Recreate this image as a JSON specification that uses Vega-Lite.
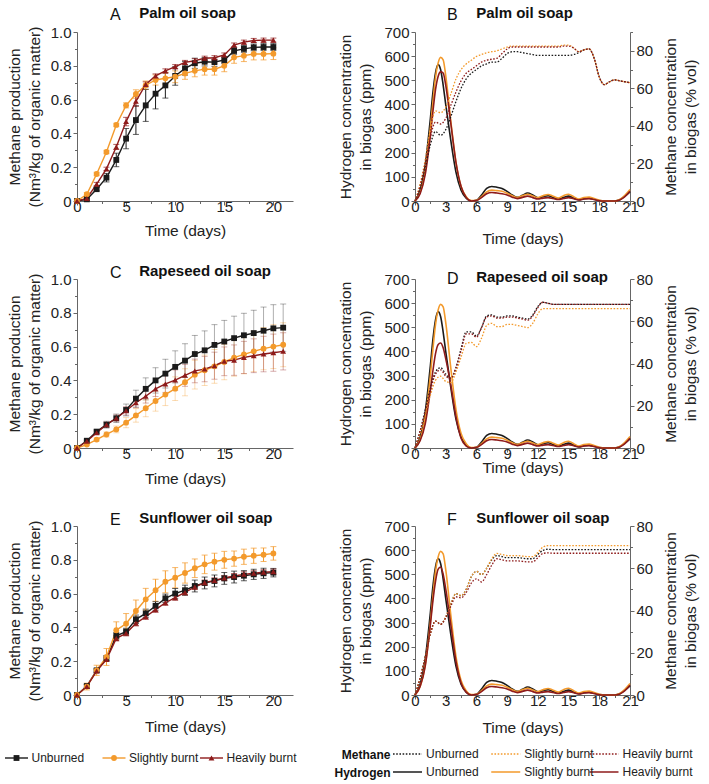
{
  "$schema": "https://vega.github.io/schema/vega-lite/v6.json",
  "background": "white",
  "padding": {"left": 2, "top": 6, "right": 5, "bottom": 2},
  "config": {
    "font": "Liberation Sans",
    "view": {"stroke": null},
    "axis": {
      "grid": false, "labelFont": "Liberation Sans", "titleFont": "Liberation Sans",
      "labelFontSize": 15, "titleFontSize": 15.5, "titleFontWeight": "normal",
      "labelColor": "#222", "titleColor": "#222", "domainColor": "#666", "tickColor": "#666",
      "labelFlush": false, "labelOverlap": false, "labelPadding": 2, "titleLineHeight": 20
    },
    "axisX": {"labelPadding": -6},
    "title": {
      "font": "Liberation Sans", "fontSize": 16, "fontWeight": "normal", "color": "#111",
      "subtitleFont": "Liberation Sans", "subtitleFontSize": 15, "subtitleFontWeight": "bold", "subtitleColor": "#111",
      "anchor": "start", "frame": "group"
    }
  },
  "datasets": {
    "prod": [
      {"panel":"A","cond":"Unburned","day":0,"value":0,"err":0},{"panel":"A","cond":"Unburned","day":1,"value":0.01,"err":0.005},{"panel":"A","cond":"Unburned","day":2,"value":0.07,"err":0.01},{"panel":"A","cond":"Unburned","day":3,"value":0.138,"err":0.025},{"panel":"A","cond":"Unburned","day":4,"value":0.243,"err":0.04},{"panel":"A","cond":"Unburned","day":5,"value":0.369,"err":0.06},{"panel":"A","cond":"Unburned","day":6,"value":0.479,"err":0.085},{"panel":"A","cond":"Unburned","day":7,"value":0.566,"err":0.095},{"panel":"A","cond":"Unburned","day":8,"value":0.635,"err":0.09},{"panel":"A","cond":"Unburned","day":9,"value":0.684,"err":0.075},{"panel":"A","cond":"Unburned","day":10,"value":0.74,"err":0.055},{"panel":"A","cond":"Unburned","day":11,"value":0.785,"err":0.04},{"panel":"A","cond":"Unburned","day":12,"value":0.815,"err":0.03},{"panel":"A","cond":"Unburned","day":13,"value":0.824,"err":0.025},{"panel":"A","cond":"Unburned","day":14,"value":0.822,"err":0.025},{"panel":"A","cond":"Unburned","day":15,"value":0.834,"err":0.02},{"panel":"A","cond":"Unburned","day":16,"value":0.888,"err":0.02},{"panel":"A","cond":"Unburned","day":17,"value":0.9,"err":0.02},{"panel":"A","cond":"Unburned","day":18,"value":0.909,"err":0.02},{"panel":"A","cond":"Unburned","day":19,"value":0.911,"err":0.02},{"panel":"A","cond":"Unburned","day":20,"value":0.911,"err":0.02},
      {"panel":"A","cond":"Slightly burnt","day":0,"value":0,"err":0},{"panel":"A","cond":"Slightly burnt","day":1,"value":0.04,"err":0.01},{"panel":"A","cond":"Slightly burnt","day":2,"value":0.16,"err":0.01},{"panel":"A","cond":"Slightly burnt","day":3,"value":0.29,"err":0.01},{"panel":"A","cond":"Slightly burnt","day":4,"value":0.45,"err":0.01},{"panel":"A","cond":"Slightly burnt","day":5,"value":0.566,"err":0.015},{"panel":"A","cond":"Slightly burnt","day":6,"value":0.633,"err":0.025},{"panel":"A","cond":"Slightly burnt","day":7,"value":0.685,"err":0.025},{"panel":"A","cond":"Slightly burnt","day":8,"value":0.716,"err":0.03},{"panel":"A","cond":"Slightly burnt","day":9,"value":0.726,"err":0.035},{"panel":"A","cond":"Slightly burnt","day":10,"value":0.735,"err":0.035},{"panel":"A","cond":"Slightly burnt","day":11,"value":0.755,"err":0.035},{"panel":"A","cond":"Slightly burnt","day":12,"value":0.77,"err":0.035},{"panel":"A","cond":"Slightly burnt","day":13,"value":0.78,"err":0.035},{"panel":"A","cond":"Slightly burnt","day":14,"value":0.78,"err":0.035},{"panel":"A","cond":"Slightly burnt","day":15,"value":0.8,"err":0.035},{"panel":"A","cond":"Slightly burnt","day":16,"value":0.85,"err":0.035},{"panel":"A","cond":"Slightly burnt","day":17,"value":0.86,"err":0.035},{"panel":"A","cond":"Slightly burnt","day":18,"value":0.87,"err":0.035},{"panel":"A","cond":"Slightly burnt","day":19,"value":0.87,"err":0.035},{"panel":"A","cond":"Slightly burnt","day":20,"value":0.872,"err":0.035},
      {"panel":"A","cond":"Heavily burnt","day":0,"value":0,"err":0},{"panel":"A","cond":"Heavily burnt","day":1,"value":0.015,"err":0.01},{"panel":"A","cond":"Heavily burnt","day":2,"value":0.1,"err":0.01},{"panel":"A","cond":"Heavily burnt","day":3,"value":0.19,"err":0.01},{"panel":"A","cond":"Heavily burnt","day":4,"value":0.32,"err":0.015},{"panel":"A","cond":"Heavily burnt","day":5,"value":0.47,"err":0.025},{"panel":"A","cond":"Heavily burnt","day":6,"value":0.59,"err":0.03},{"panel":"A","cond":"Heavily burnt","day":7,"value":0.69,"err":0.015},{"panel":"A","cond":"Heavily burnt","day":8,"value":0.74,"err":0.012},{"panel":"A","cond":"Heavily burnt","day":9,"value":0.77,"err":0.012},{"panel":"A","cond":"Heavily burnt","day":10,"value":0.795,"err":0.012},{"panel":"A","cond":"Heavily burnt","day":11,"value":0.82,"err":0.012},{"panel":"A","cond":"Heavily burnt","day":12,"value":0.83,"err":0.012},{"panel":"A","cond":"Heavily burnt","day":13,"value":0.845,"err":0.012},{"panel":"A","cond":"Heavily burnt","day":14,"value":0.848,"err":0.012},{"panel":"A","cond":"Heavily burnt","day":15,"value":0.864,"err":0.012},{"panel":"A","cond":"Heavily burnt","day":16,"value":0.923,"err":0.012},{"panel":"A","cond":"Heavily burnt","day":17,"value":0.94,"err":0.012},{"panel":"A","cond":"Heavily burnt","day":18,"value":0.95,"err":0.012},{"panel":"A","cond":"Heavily burnt","day":19,"value":0.952,"err":0.012},{"panel":"A","cond":"Heavily burnt","day":20,"value":0.952,"err":0.012},
      {"panel":"C","cond":"Unburned","day":0,"value":0,"err":0},{"panel":"C","cond":"Unburned","day":1,"value":0.043,"err":0.005},{"panel":"C","cond":"Unburned","day":2,"value":0.097,"err":0.01},{"panel":"C","cond":"Unburned","day":3,"value":0.138,"err":0.02},{"panel":"C","cond":"Unburned","day":4,"value":0.176,"err":0.025},{"panel":"C","cond":"Unburned","day":5,"value":0.225,"err":0.035},{"panel":"C","cond":"Unburned","day":6,"value":0.292,"err":0.05},{"panel":"C","cond":"Unburned","day":7,"value":0.35,"err":0.065},{"panel":"C","cond":"Unburned","day":8,"value":0.4,"err":0.075},{"panel":"C","cond":"Unburned","day":9,"value":0.44,"err":0.085},{"panel":"C","cond":"Unburned","day":10,"value":0.48,"err":0.095},{"panel":"C","cond":"Unburned","day":11,"value":0.517,"err":0.1},{"panel":"C","cond":"Unburned","day":12,"value":0.556,"err":0.11},{"panel":"C","cond":"Unburned","day":13,"value":0.578,"err":0.115},{"panel":"C","cond":"Unburned","day":14,"value":0.61,"err":0.12},{"panel":"C","cond":"Unburned","day":15,"value":0.63,"err":0.125},{"panel":"C","cond":"Unburned","day":16,"value":0.65,"err":0.13},{"panel":"C","cond":"Unburned","day":17,"value":0.667,"err":0.13},{"panel":"C","cond":"Unburned","day":18,"value":0.68,"err":0.135},{"panel":"C","cond":"Unburned","day":19,"value":0.694,"err":0.14},{"panel":"C","cond":"Unburned","day":20,"value":0.708,"err":0.14},{"panel":"C","cond":"Unburned","day":21,"value":0.712,"err":0.14},
      {"panel":"C","cond":"Slightly burnt","day":0,"value":0,"err":0},{"panel":"C","cond":"Slightly burnt","day":1,"value":0.02,"err":0.005},{"panel":"C","cond":"Slightly burnt","day":2,"value":0.05,"err":0.01},{"panel":"C","cond":"Slightly burnt","day":3,"value":0.08,"err":0.015},{"panel":"C","cond":"Slightly burnt","day":4,"value":0.11,"err":0.02},{"panel":"C","cond":"Slightly burnt","day":5,"value":0.15,"err":0.03},{"panel":"C","cond":"Slightly burnt","day":6,"value":0.193,"err":0.04},{"panel":"C","cond":"Slightly burnt","day":7,"value":0.235,"err":0.05},{"panel":"C","cond":"Slightly burnt","day":8,"value":0.278,"err":0.06},{"panel":"C","cond":"Slightly burnt","day":9,"value":0.316,"err":0.065},{"panel":"C","cond":"Slightly burnt","day":10,"value":0.351,"err":0.07},{"panel":"C","cond":"Slightly burnt","day":11,"value":0.389,"err":0.08},{"panel":"C","cond":"Slightly burnt","day":12,"value":0.434,"err":0.085},{"panel":"C","cond":"Slightly burnt","day":13,"value":0.46,"err":0.09},{"panel":"C","cond":"Slightly burnt","day":14,"value":0.483,"err":0.1},{"panel":"C","cond":"Slightly burnt","day":15,"value":0.509,"err":0.105},{"panel":"C","cond":"Slightly burnt","day":16,"value":0.535,"err":0.11},{"panel":"C","cond":"Slightly burnt","day":17,"value":0.554,"err":0.115},{"panel":"C","cond":"Slightly burnt","day":18,"value":0.572,"err":0.12},{"panel":"C","cond":"Slightly burnt","day":19,"value":0.588,"err":0.125},{"panel":"C","cond":"Slightly burnt","day":20,"value":0.6,"err":0.13},{"panel":"C","cond":"Slightly burnt","day":21,"value":0.611,"err":0.13},
      {"panel":"C","cond":"Heavily burnt","day":0,"value":0,"err":0},{"panel":"C","cond":"Heavily burnt","day":1,"value":0.04,"err":0.005},{"panel":"C","cond":"Heavily burnt","day":2,"value":0.09,"err":0.01},{"panel":"C","cond":"Heavily burnt","day":3,"value":0.138,"err":0.015},{"panel":"C","cond":"Heavily burnt","day":4,"value":0.176,"err":0.02},{"panel":"C","cond":"Heavily burnt","day":5,"value":0.22,"err":0.025},{"panel":"C","cond":"Heavily burnt","day":6,"value":0.268,"err":0.03},{"panel":"C","cond":"Heavily burnt","day":7,"value":0.306,"err":0.04},{"panel":"C","cond":"Heavily burnt","day":8,"value":0.35,"err":0.045},{"panel":"C","cond":"Heavily burnt","day":9,"value":0.379,"err":0.05},{"panel":"C","cond":"Heavily burnt","day":10,"value":0.402,"err":0.06},{"panel":"C","cond":"Heavily burnt","day":11,"value":0.43,"err":0.065},{"panel":"C","cond":"Heavily burnt","day":12,"value":0.456,"err":0.07},{"panel":"C","cond":"Heavily burnt","day":13,"value":0.467,"err":0.075},{"panel":"C","cond":"Heavily burnt","day":14,"value":0.487,"err":0.08},{"panel":"C","cond":"Heavily burnt","day":15,"value":0.513,"err":0.085},{"panel":"C","cond":"Heavily burnt","day":16,"value":0.52,"err":0.09},{"panel":"C","cond":"Heavily burnt","day":17,"value":0.536,"err":0.095},{"panel":"C","cond":"Heavily burnt","day":18,"value":0.546,"err":0.1},{"panel":"C","cond":"Heavily burnt","day":19,"value":0.556,"err":0.105},{"panel":"C","cond":"Heavily burnt","day":20,"value":0.564,"err":0.11},{"panel":"C","cond":"Heavily burnt","day":21,"value":0.572,"err":0.11},
      {"panel":"E","cond":"Unburned","day":0,"value":0,"err":0},{"panel":"E","cond":"Unburned","day":1,"value":0.053,"err":0.01},{"panel":"E","cond":"Unburned","day":2,"value":0.146,"err":0.01},{"panel":"E","cond":"Unburned","day":3,"value":0.217,"err":0.015},{"panel":"E","cond":"Unburned","day":4,"value":0.35,"err":0.02},{"panel":"E","cond":"Unburned","day":5,"value":0.375,"err":0.02},{"panel":"E","cond":"Unburned","day":6,"value":0.448,"err":0.025},{"panel":"E","cond":"Unburned","day":7,"value":0.483,"err":0.025},{"panel":"E","cond":"Unburned","day":8,"value":0.527,"err":0.025},{"panel":"E","cond":"Unburned","day":9,"value":0.572,"err":0.025},{"panel":"E","cond":"Unburned","day":10,"value":0.6,"err":0.03},{"panel":"E","cond":"Unburned","day":11,"value":0.62,"err":0.03},{"panel":"E","cond":"Unburned","day":12,"value":0.645,"err":0.035},{"panel":"E","cond":"Unburned","day":13,"value":0.663,"err":0.035},{"panel":"E","cond":"Unburned","day":14,"value":0.675,"err":0.035},{"panel":"E","cond":"Unburned","day":15,"value":0.69,"err":0.035},{"panel":"E","cond":"Unburned","day":16,"value":0.698,"err":0.035},{"panel":"E","cond":"Unburned","day":17,"value":0.706,"err":0.03},{"panel":"E","cond":"Unburned","day":18,"value":0.714,"err":0.03},{"panel":"E","cond":"Unburned","day":19,"value":0.72,"err":0.03},{"panel":"E","cond":"Unburned","day":20,"value":0.724,"err":0.025},
      {"panel":"E","cond":"Slightly burnt","day":0,"value":0,"err":0},{"panel":"E","cond":"Slightly burnt","day":1,"value":0.05,"err":0.02},{"panel":"E","cond":"Slightly burnt","day":2,"value":0.146,"err":0.03},{"panel":"E","cond":"Slightly burnt","day":3,"value":0.225,"err":0.05},{"panel":"E","cond":"Slightly burnt","day":4,"value":0.383,"err":0.05},{"panel":"E","cond":"Slightly burnt","day":5,"value":0.422,"err":0.06},{"panel":"E","cond":"Slightly burnt","day":6,"value":0.497,"err":0.065},{"panel":"E","cond":"Slightly burnt","day":7,"value":0.566,"err":0.065},{"panel":"E","cond":"Slightly burnt","day":8,"value":0.62,"err":0.065},{"panel":"E","cond":"Slightly burnt","day":9,"value":0.67,"err":0.065},{"panel":"E","cond":"Slightly burnt","day":10,"value":0.694,"err":0.06},{"panel":"E","cond":"Slightly burnt","day":11,"value":0.722,"err":0.06},{"panel":"E","cond":"Slightly burnt","day":12,"value":0.75,"err":0.055},{"panel":"E","cond":"Slightly burnt","day":13,"value":0.773,"err":0.055},{"panel":"E","cond":"Slightly burnt","day":14,"value":0.789,"err":0.05},{"panel":"E","cond":"Slightly burnt","day":15,"value":0.8,"err":0.05},{"panel":"E","cond":"Slightly burnt","day":16,"value":0.807,"err":0.045},{"panel":"E","cond":"Slightly burnt","day":17,"value":0.818,"err":0.045},{"panel":"E","cond":"Slightly burnt","day":18,"value":0.824,"err":0.045},{"panel":"E","cond":"Slightly burnt","day":19,"value":0.83,"err":0.04},{"panel":"E","cond":"Slightly burnt","day":20,"value":0.838,"err":0.04},
      {"panel":"E","cond":"Heavily burnt","day":0,"value":0,"err":0},{"panel":"E","cond":"Heavily burnt","day":1,"value":0.05,"err":0.01},{"panel":"E","cond":"Heavily burnt","day":2,"value":0.142,"err":0.01},{"panel":"E","cond":"Heavily burnt","day":3,"value":0.21,"err":0.01},{"panel":"E","cond":"Heavily burnt","day":4,"value":0.335,"err":0.015},{"panel":"E","cond":"Heavily burnt","day":5,"value":0.365,"err":0.015},{"panel":"E","cond":"Heavily burnt","day":6,"value":0.424,"err":0.015},{"panel":"E","cond":"Heavily burnt","day":7,"value":0.463,"err":0.015},{"panel":"E","cond":"Heavily burnt","day":8,"value":0.505,"err":0.015},{"panel":"E","cond":"Heavily burnt","day":9,"value":0.546,"err":0.015},{"panel":"E","cond":"Heavily burnt","day":10,"value":0.576,"err":0.015},{"panel":"E","cond":"Heavily burnt","day":11,"value":0.607,"err":0.015},{"panel":"E","cond":"Heavily burnt","day":12,"value":0.639,"err":0.015},{"panel":"E","cond":"Heavily burnt","day":13,"value":0.665,"err":0.015},{"panel":"E","cond":"Heavily burnt","day":14,"value":0.678,"err":0.015},{"panel":"E","cond":"Heavily burnt","day":15,"value":0.692,"err":0.015},{"panel":"E","cond":"Heavily burnt","day":16,"value":0.704,"err":0.015},{"panel":"E","cond":"Heavily burnt","day":17,"value":0.714,"err":0.015},{"panel":"E","cond":"Heavily burnt","day":18,"value":0.72,"err":0.015},{"panel":"E","cond":"Heavily burnt","day":19,"value":0.726,"err":0.015},{"panel":"E","cond":"Heavily burnt","day":20,"value":0.73,"err":0.015}
    ],
    "h2B": [
      {"day":0,"Unburned":0,"Slightly burnt":0,"Heavily burnt":0},{"day":0.5,"Unburned":45,"Slightly burnt":35,"Heavily burnt":30},{"day":1,"Unburned":150,"Slightly burnt":125,"Heavily burnt":110},{"day":1.5,"Unburned":340,"Slightly burnt":300,"Heavily burnt":270},{"day":1.75,"Unburned":450,"Slightly burnt":410,"Heavily burnt":370},{"day":2,"Unburned":530,"Slightly burnt":510,"Heavily burnt":460},{"day":2.25,"Unburned":565,"Slightly burnt":570,"Heavily burnt":515},{"day":2.5,"Unburned":545,"Slightly burnt":595,"Heavily burnt":535},{"day":2.75,"Unburned":480,"Slightly burnt":585,"Heavily burnt":530},{"day":3,"Unburned":400,"Slightly burnt":520,"Heavily burnt":480},{"day":3.5,"Unburned":250,"Slightly burnt":330,"Heavily burnt":320},{"day":4,"Unburned":120,"Slightly burnt":160,"Heavily burnt":160},{"day":4.5,"Unburned":45,"Slightly burnt":60,"Heavily burnt":60},{"day":5,"Unburned":12,"Slightly burnt":18,"Heavily burnt":15},{"day":5.5,"Unburned":0,"Slightly burnt":2,"Heavily burnt":0},{"day":6,"Unburned":3,"Slightly burnt":3,"Heavily burnt":2},{"day":6.5,"Unburned":25,"Slightly burnt":18,"Heavily burnt":14},{"day":7,"Unburned":52,"Slightly burnt":38,"Heavily burnt":30},{"day":7.5,"Unburned":60,"Slightly burnt":45,"Heavily burnt":35},{"day":8,"Unburned":57,"Slightly burnt":43,"Heavily burnt":33},{"day":8.5,"Unburned":52,"Slightly burnt":40,"Heavily burnt":30},{"day":9,"Unburned":40,"Slightly burnt":32,"Heavily burnt":25},{"day":9.5,"Unburned":25,"Slightly burnt":22,"Heavily burnt":16},{"day":10,"Unburned":15,"Slightly burnt":14,"Heavily burnt":10},{"day":10.5,"Unburned":24,"Slightly burnt":22,"Heavily burnt":15},{"day":11,"Unburned":33,"Slightly burnt":28,"Heavily burnt":20},{"day":11.5,"Unburned":25,"Slightly burnt":21,"Heavily burnt":14},{"day":12,"Unburned":13,"Slightly burnt":14,"Heavily burnt":8},{"day":12.5,"Unburned":18,"Slightly burnt":22,"Heavily burnt":12},{"day":13,"Unburned":22,"Slightly burnt":27,"Heavily burnt":14},{"day":13.5,"Unburned":15,"Slightly burnt":20,"Heavily burnt":10},{"day":14,"Unburned":9,"Slightly burnt":12,"Heavily burnt":6},{"day":14.5,"Unburned":15,"Slightly burnt":22,"Heavily burnt":10},{"day":15,"Unburned":20,"Slightly burnt":28,"Heavily burnt":14},{"day":15.5,"Unburned":12,"Slightly burnt":18,"Heavily burnt":9},{"day":16,"Unburned":5,"Slightly burnt":8,"Heavily burnt":4},{"day":16.5,"Unburned":10,"Slightly burnt":14,"Heavily burnt":8},{"day":17,"Unburned":12,"Slightly burnt":16,"Heavily burnt":10},{"day":17.5,"Unburned":7,"Slightly burnt":10,"Heavily burnt":6},{"day":18,"Unburned":2,"Slightly burnt":3,"Heavily burnt":1},{"day":18.5,"Unburned":0,"Slightly burnt":0,"Heavily burnt":0},{"day":19,"Unburned":0,"Slightly burnt":0,"Heavily burnt":0},{"day":19.5,"Unburned":0,"Slightly burnt":0,"Heavily burnt":0},{"day":20,"Unburned":5,"Slightly burnt":6,"Heavily burnt":4},{"day":20.5,"Unburned":20,"Slightly burnt":24,"Heavily burnt":18},{"day":21,"Unburned":38,"Slightly burnt":48,"Heavily burnt":40}
    ],
    "h2D": [
      {"day":0,"Unburned":0,"Slightly burnt":0,"Heavily burnt":0},{"day":0.5,"Unburned":45,"Slightly burnt":35,"Heavily burnt":30},{"day":1,"Unburned":150,"Slightly burnt":125,"Heavily burnt":100},{"day":1.5,"Unburned":340,"Slightly burnt":300,"Heavily burnt":240},{"day":1.75,"Unburned":450,"Slightly burnt":410,"Heavily burnt":320},{"day":2,"Unburned":530,"Slightly burnt":510,"Heavily burnt":390},{"day":2.25,"Unburned":565,"Slightly burnt":570,"Heavily burnt":428},{"day":2.5,"Unburned":545,"Slightly burnt":595,"Heavily burnt":435},{"day":2.75,"Unburned":480,"Slightly burnt":585,"Heavily burnt":415},{"day":3,"Unburned":400,"Slightly burnt":520,"Heavily burnt":370},{"day":3.5,"Unburned":250,"Slightly burnt":330,"Heavily burnt":260},{"day":4,"Unburned":120,"Slightly burnt":160,"Heavily burnt":130},{"day":4.5,"Unburned":45,"Slightly burnt":60,"Heavily burnt":40},{"day":5,"Unburned":12,"Slightly burnt":18,"Heavily burnt":8},{"day":5.5,"Unburned":0,"Slightly burnt":2,"Heavily burnt":0},{"day":6,"Unburned":3,"Slightly burnt":3,"Heavily burnt":2},{"day":6.5,"Unburned":25,"Slightly burnt":18,"Heavily burnt":14},{"day":7,"Unburned":52,"Slightly burnt":38,"Heavily burnt":30},{"day":7.5,"Unburned":60,"Slightly burnt":45,"Heavily burnt":35},{"day":8,"Unburned":57,"Slightly burnt":43,"Heavily burnt":33},{"day":8.5,"Unburned":52,"Slightly burnt":40,"Heavily burnt":30},{"day":9,"Unburned":40,"Slightly burnt":32,"Heavily burnt":25},{"day":9.5,"Unburned":25,"Slightly burnt":22,"Heavily burnt":16},{"day":10,"Unburned":15,"Slightly burnt":14,"Heavily burnt":10},{"day":10.5,"Unburned":24,"Slightly burnt":22,"Heavily burnt":15},{"day":11,"Unburned":33,"Slightly burnt":28,"Heavily burnt":20},{"day":11.5,"Unburned":25,"Slightly burnt":21,"Heavily burnt":14},{"day":12,"Unburned":13,"Slightly burnt":14,"Heavily burnt":8},{"day":12.5,"Unburned":18,"Slightly burnt":22,"Heavily burnt":12},{"day":13,"Unburned":22,"Slightly burnt":27,"Heavily burnt":14},{"day":13.5,"Unburned":15,"Slightly burnt":20,"Heavily burnt":10},{"day":14,"Unburned":9,"Slightly burnt":12,"Heavily burnt":6},{"day":14.5,"Unburned":15,"Slightly burnt":22,"Heavily burnt":10},{"day":15,"Unburned":20,"Slightly burnt":28,"Heavily burnt":14},{"day":15.5,"Unburned":12,"Slightly burnt":18,"Heavily burnt":9},{"day":16,"Unburned":5,"Slightly burnt":8,"Heavily burnt":4},{"day":16.5,"Unburned":10,"Slightly burnt":14,"Heavily burnt":8},{"day":17,"Unburned":12,"Slightly burnt":16,"Heavily burnt":10},{"day":17.5,"Unburned":7,"Slightly burnt":10,"Heavily burnt":6},{"day":18,"Unburned":2,"Slightly burnt":3,"Heavily burnt":1},{"day":18.5,"Unburned":0,"Slightly burnt":0,"Heavily burnt":0},{"day":19,"Unburned":0,"Slightly burnt":0,"Heavily burnt":0},{"day":19.5,"Unburned":0,"Slightly burnt":0,"Heavily burnt":0},{"day":20,"Unburned":5,"Slightly burnt":6,"Heavily burnt":4},{"day":20.5,"Unburned":20,"Slightly burnt":24,"Heavily burnt":18},{"day":21,"Unburned":38,"Slightly burnt":48,"Heavily burnt":40}
    ],
    "h2F": [
      {"day":0,"Unburned":0,"Slightly burnt":0,"Heavily burnt":0},{"day":0.5,"Unburned":45,"Slightly burnt":35,"Heavily burnt":35},{"day":1,"Unburned":150,"Slightly burnt":125,"Heavily burnt":120},{"day":1.5,"Unburned":340,"Slightly burnt":300,"Heavily burnt":290},{"day":1.75,"Unburned":450,"Slightly burnt":410,"Heavily burnt":390},{"day":2,"Unburned":530,"Slightly burnt":510,"Heavily burnt":470},{"day":2.25,"Unburned":565,"Slightly burnt":570,"Heavily burnt":520},{"day":2.5,"Unburned":545,"Slightly burnt":595,"Heavily burnt":530},{"day":2.75,"Unburned":480,"Slightly burnt":585,"Heavily burnt":500},{"day":3,"Unburned":400,"Slightly burnt":520,"Heavily burnt":440},{"day":3.5,"Unburned":250,"Slightly burnt":330,"Heavily burnt":290},{"day":4,"Unburned":120,"Slightly burnt":160,"Heavily burnt":140},{"day":4.5,"Unburned":45,"Slightly burnt":60,"Heavily burnt":50},{"day":5,"Unburned":12,"Slightly burnt":18,"Heavily burnt":12},{"day":5.5,"Unburned":0,"Slightly burnt":2,"Heavily burnt":0},{"day":6,"Unburned":3,"Slightly burnt":3,"Heavily burnt":2},{"day":6.5,"Unburned":25,"Slightly burnt":18,"Heavily burnt":14},{"day":7,"Unburned":52,"Slightly burnt":38,"Heavily burnt":30},{"day":7.5,"Unburned":60,"Slightly burnt":45,"Heavily burnt":35},{"day":8,"Unburned":57,"Slightly burnt":43,"Heavily burnt":33},{"day":8.5,"Unburned":52,"Slightly burnt":40,"Heavily burnt":30},{"day":9,"Unburned":40,"Slightly burnt":32,"Heavily burnt":25},{"day":9.5,"Unburned":25,"Slightly burnt":22,"Heavily burnt":16},{"day":10,"Unburned":15,"Slightly burnt":14,"Heavily burnt":10},{"day":10.5,"Unburned":24,"Slightly burnt":22,"Heavily burnt":15},{"day":11,"Unburned":33,"Slightly burnt":28,"Heavily burnt":20},{"day":11.5,"Unburned":25,"Slightly burnt":21,"Heavily burnt":14},{"day":12,"Unburned":13,"Slightly burnt":14,"Heavily burnt":8},{"day":12.5,"Unburned":18,"Slightly burnt":22,"Heavily burnt":12},{"day":13,"Unburned":22,"Slightly burnt":27,"Heavily burnt":14},{"day":13.5,"Unburned":15,"Slightly burnt":20,"Heavily burnt":10},{"day":14,"Unburned":9,"Slightly burnt":12,"Heavily burnt":6},{"day":14.5,"Unburned":15,"Slightly burnt":22,"Heavily burnt":10},{"day":15,"Unburned":20,"Slightly burnt":28,"Heavily burnt":14},{"day":15.5,"Unburned":12,"Slightly burnt":18,"Heavily burnt":9},{"day":16,"Unburned":5,"Slightly burnt":8,"Heavily burnt":4},{"day":16.5,"Unburned":10,"Slightly burnt":14,"Heavily burnt":8},{"day":17,"Unburned":12,"Slightly burnt":16,"Heavily burnt":10},{"day":17.5,"Unburned":7,"Slightly burnt":10,"Heavily burnt":6},{"day":18,"Unburned":2,"Slightly burnt":3,"Heavily burnt":1},{"day":18.5,"Unburned":0,"Slightly burnt":0,"Heavily burnt":0},{"day":19,"Unburned":0,"Slightly burnt":0,"Heavily burnt":0},{"day":19.5,"Unburned":0,"Slightly burnt":0,"Heavily burnt":0},{"day":20,"Unburned":5,"Slightly burnt":6,"Heavily burnt":4},{"day":20.5,"Unburned":20,"Slightly burnt":24,"Heavily burnt":18},{"day":21,"Unburned":38,"Slightly burnt":48,"Heavily burnt":40}
    ],
    "ch4B": [
      {"day":0,"Unburned":0,"Slightly burnt":0,"Heavily burnt":0},{"day":0.5,"Unburned":7,"Slightly burnt":9,"Heavily burnt":8},{"day":1,"Unburned":18,"Slightly burnt":22,"Heavily burnt":20},{"day":1.5,"Unburned":30,"Slightly burnt":38,"Heavily burnt":34},{"day":2,"Unburned":37,"Slightly burnt":48,"Heavily burnt":42},{"day":2.5,"Unburned":35,"Slightly burnt":47,"Heavily burnt":41},{"day":3,"Unburned":38,"Slightly burnt":50,"Heavily burnt":44},{"day":3.5,"Unburned":45,"Slightly burnt":57,"Heavily burnt":51},{"day":4,"Unburned":53,"Slightly burnt":65,"Heavily burnt":58},{"day":4.5,"Unburned":60,"Slightly burnt":70,"Heavily burnt":64},{"day":5,"Unburned":65,"Slightly burnt":73,"Heavily burnt":68},{"day":5.5,"Unburned":68,"Slightly burnt":75,"Heavily burnt":70},{"day":6,"Unburned":70,"Slightly burnt":77,"Heavily burnt":72},{"day":6.5,"Unburned":72,"Slightly burnt":78,"Heavily burnt":74},{"day":7,"Unburned":73,"Slightly burnt":79,"Heavily burnt":75},{"day":7.5,"Unburned":74,"Slightly burnt":79.5,"Heavily burnt":75.5},{"day":8,"Unburned":74,"Slightly burnt":80,"Heavily burnt":76},{"day":8.5,"Unburned":76,"Slightly burnt":81,"Heavily burnt":78.5},{"day":9,"Unburned":78.5,"Slightly burnt":82,"Heavily burnt":81},{"day":9.5,"Unburned":79.5,"Slightly burnt":82.5,"Heavily burnt":82},{"day":10,"Unburned":79.5,"Slightly burnt":82.5,"Heavily burnt":82},{"day":10.5,"Unburned":79,"Slightly burnt":82.5,"Heavily burnt":82},{"day":11,"Unburned":78.5,"Slightly burnt":82.5,"Heavily burnt":82},{"day":11.5,"Unburned":78,"Slightly burnt":82.5,"Heavily burnt":82},{"day":12,"Unburned":77.5,"Slightly burnt":82.5,"Heavily burnt":82},{"day":13,"Unburned":77.5,"Slightly burnt":82.5,"Heavily burnt":82},{"day":14,"Unburned":77.5,"Slightly burnt":82.5,"Heavily burnt":82},{"day":14.5,"Unburned":77.5,"Slightly burnt":83,"Heavily burnt":82.5},{"day":15,"Unburned":77.5,"Slightly burnt":83,"Heavily burnt":82.5},{"day":15.5,"Unburned":78,"Slightly burnt":81.5,"Heavily burnt":81.5},{"day":16,"Unburned":79,"Slightly burnt":79.5,"Heavily burnt":79.5},{"day":16.5,"Unburned":80.5,"Slightly burnt":80.5,"Heavily burnt":80.5},{"day":17,"Unburned":81,"Slightly burnt":81,"Heavily burnt":81},{"day":17.5,"Unburned":76,"Slightly burnt":76,"Heavily burnt":76},{"day":18,"Unburned":66,"Slightly burnt":66,"Heavily burnt":66},{"day":18.5,"Unburned":62,"Slightly burnt":62,"Heavily burnt":62},{"day":19,"Unburned":63.5,"Slightly burnt":63.5,"Heavily burnt":63.5},{"day":19.5,"Unburned":64.5,"Slightly burnt":64.5,"Heavily burnt":64.5},{"day":20,"Unburned":64,"Slightly burnt":64,"Heavily burnt":64},{"day":20.5,"Unburned":63.5,"Slightly burnt":63.5,"Heavily burnt":63.5},{"day":21,"Unburned":63,"Slightly burnt":63,"Heavily burnt":63}
    ],
    "ch4D": [
      {"day":0,"Unburned":0,"Slightly burnt":0,"Heavily burnt":0},{"day":0.5,"Unburned":8,"Slightly burnt":7,"Heavily burnt":8},{"day":1,"Unburned":18,"Slightly burnt":16,"Heavily burnt":17},{"day":1.5,"Unburned":28,"Slightly burnt":25,"Heavily burnt":27},{"day":2,"Unburned":36,"Slightly burnt":32,"Heavily burnt":35},{"day":2.5,"Unburned":38,"Slightly burnt":34,"Heavily burnt":37},{"day":3,"Unburned":35,"Slightly burnt":31.5,"Heavily burnt":34},{"day":3.5,"Unburned":33,"Slightly burnt":31,"Heavily burnt":33},{"day":4,"Unburned":38,"Slightly burnt":36,"Heavily burnt":38},{"day":4.5,"Unburned":47,"Slightly burnt":43,"Heavily burnt":46},{"day":5,"Unburned":55,"Slightly burnt":49.5,"Heavily burnt":54},{"day":5.5,"Unburned":55,"Slightly burnt":50,"Heavily burnt":54},{"day":6,"Unburned":53,"Slightly burnt":48,"Heavily burnt":52.5},{"day":6.5,"Unburned":57,"Slightly burnt":52,"Heavily burnt":57},{"day":7,"Unburned":62.5,"Slightly burnt":58,"Heavily burnt":62},{"day":7.5,"Unburned":63,"Slightly burnt":59,"Heavily burnt":62.5},{"day":8,"Unburned":62,"Slightly burnt":57.5,"Heavily burnt":61.5},{"day":8.5,"Unburned":62,"Slightly burnt":57.5,"Heavily burnt":61.5},{"day":9,"Unburned":62.5,"Slightly burnt":58.5,"Heavily burnt":62},{"day":9.5,"Unburned":62.5,"Slightly burnt":58.5,"Heavily burnt":62},{"day":10,"Unburned":62,"Slightly burnt":58,"Heavily burnt":61.5},{"day":10.5,"Unburned":61.5,"Slightly burnt":57.5,"Heavily burnt":61},{"day":11,"Unburned":61,"Slightly burnt":57,"Heavily burnt":60.5},{"day":11.5,"Unburned":63,"Slightly burnt":59,"Heavily burnt":62.5},{"day":12,"Unburned":67,"Slightly burnt":63.5,"Heavily burnt":66.5},{"day":12.5,"Unburned":69,"Slightly burnt":66,"Heavily burnt":69},{"day":13,"Unburned":68.5,"Slightly burnt":66,"Heavily burnt":68.5},{"day":13.5,"Unburned":68,"Slightly burnt":66,"Heavily burnt":68},{"day":15,"Unburned":68,"Slightly burnt":66,"Heavily burnt":68},{"day":17,"Unburned":68,"Slightly burnt":66,"Heavily burnt":68},{"day":19,"Unburned":68,"Slightly burnt":66,"Heavily burnt":68},{"day":21,"Unburned":68,"Slightly burnt":66,"Heavily burnt":68}
    ],
    "ch4F": [
      {"day":0,"Unburned":0,"Slightly burnt":0,"Heavily burnt":0},{"day":0.5,"Unburned":8,"Slightly burnt":8,"Heavily burnt":8},{"day":1,"Unburned":18,"Slightly burnt":18,"Heavily burnt":18},{"day":1.5,"Unburned":29,"Slightly burnt":29,"Heavily burnt":29},{"day":2,"Unburned":35,"Slightly burnt":35,"Heavily burnt":35},{"day":2.5,"Unburned":33.5,"Slightly burnt":33.5,"Heavily burnt":33.5},{"day":3,"Unburned":37,"Slightly burnt":37,"Heavily burnt":36.5},{"day":3.5,"Unburned":43,"Slightly burnt":43,"Heavily burnt":42},{"day":4,"Unburned":48,"Slightly burnt":48,"Heavily burnt":46.5},{"day":4.5,"Unburned":47,"Slightly burnt":47,"Heavily burnt":46},{"day":5,"Unburned":50,"Slightly burnt":50,"Heavily burnt":48.5},{"day":5.5,"Unburned":56,"Slightly burnt":56,"Heavily burnt":53},{"day":6,"Unburned":58.5,"Slightly burnt":58.5,"Heavily burnt":55},{"day":6.5,"Unburned":57,"Slightly burnt":57,"Heavily burnt":53.5},{"day":7,"Unburned":60,"Slightly burnt":60,"Heavily burnt":57},{"day":7.5,"Unburned":64,"Slightly burnt":64.5,"Heavily burnt":61.5},{"day":8,"Unburned":66,"Slightly burnt":67,"Heavily burnt":64.5},{"day":8.5,"Unburned":65.5,"Slightly burnt":66.5,"Heavily burnt":64},{"day":9,"Unburned":65,"Slightly burnt":66,"Heavily burnt":63.5},{"day":10,"Unburned":65,"Slightly burnt":66,"Heavily burnt":63.5},{"day":11,"Unburned":64.5,"Slightly burnt":65.5,"Heavily burnt":63},{"day":11.5,"Unburned":64.5,"Slightly burnt":65.5,"Heavily burnt":63},{"day":12,"Unburned":66.5,"Slightly burnt":67.5,"Heavily burnt":65},{"day":12.5,"Unburned":68.5,"Slightly burnt":70,"Heavily burnt":67},{"day":13,"Unburned":69,"Slightly burnt":70.7,"Heavily burnt":67.3},{"day":13.5,"Unburned":68.8,"Slightly burnt":70.7,"Heavily burnt":67.1},{"day":15,"Unburned":68.8,"Slightly burnt":70.7,"Heavily burnt":67.1},{"day":17,"Unburned":68.8,"Slightly burnt":70.7,"Heavily burnt":67.1},{"day":19,"Unburned":68.8,"Slightly burnt":70.7,"Heavily burnt":67.1},{"day":21,"Unburned":68.8,"Slightly burnt":70.7,"Heavily burnt":67.1}
    ]
  },
  "vconcat": [
    {
      "columns": 2,
      "bounds": "flush",
      "spacing": {"row": 78, "column": 122},
      "concat": [
        {
          "width": 216, "height": 169,
          "title": {"text": "A", "subtitle": "\u200c\u00a0\u00a0\u00a0\u00a0\u00a0\u00a0\u00a0Palm oil soap", "subtitlePadding": -17, "dx": 33, "offset": 1},
          "data": {"name": "prod"},
          "transform": [{"filter": "datum.panel === 'A'"}],
          "encoding": {
            "x": {"field": "day", "type": "quantitative", "scale": {"domain": [0, 22], "nice": false, "zero": false},
                  "axis": {"title": "Time (days)", "labelOverlap": false, "values": [0, 2.5, 5, 7.5, 10, 12.5, 15, 17.5, 20], "labelExpr": "datum.value % 5 == 0 ? datum.label : ''", "tickSize": {"condition": {"test": "datum.value % 5 == 0", "value": 4}, "value": 2.5}, "titlePadding": 9}},
            "y": {"field": "value", "type": "quantitative", "scale": {"domain": [0, 1], "nice": false},
                  "axis": {"title": ["Methane production", "(Nm³/kg of organic matter)"], "labelOverlap": false, "values": [0, 0.1, 0.2, 0.3, 0.4, 0.5, 0.6, 0.7, 0.8, 0.9, 1], "labelExpr": "round(datum.value * 10) % 2 == 0 ? (datum.value == 0 ? '0' : format(datum.value, '.1f')) : ''", "tickSize": {"condition": {"test": "round(datum.value * 10) % 2 == 0", "value": 4}, "value": 2.5}, "titlePadding": 8}},
            "color": {"field": "cond", "type": "nominal", "scale": {"domain": ["Unburned", "Slightly burnt", "Heavily burnt"], "range": ["#1b1b1b", "#f39a2c", "#8e1b1b"]}, "legend": null}
          },
          "layer": [
            {"transform": [{"filter": "datum.err > 0"}], "mark": {"type": "errorbar", "ticks": true, "size": 6, "thickness": 1}, "encoding": {"yError": {"field": "err"}}},
            {"mark": {"type": "line", "strokeWidth": 1.4}},
            {"mark": {"type": "point", "filled": true, "size": 34, "opacity": 1}, "encoding": {"shape": {"field": "cond", "type": "nominal", "scale": {"domain": ["Unburned", "Slightly burnt", "Heavily burnt"], "range": ["square", "circle", "triangle-up"]}, "legend": null}}}
          ]
        },
        {
          "width": 215, "height": 169,
          "title": {"text": "B", "subtitle": "\u200c\u00a0\u00a0\u00a0\u00a0\u00a0\u00a0\u00a0Palm oil soap", "subtitlePadding": -17, "dx": 32, "offset": 1},
          "encoding": {
            "x": {"field": "day", "type": "quantitative", "scale": {"domain": [0, 21], "nice": false},
                  "axis": {"title": "Time (days)", "labelOverlap": false, "values": [0, 1.5, 3, 4.5, 6, 7.5, 9, 10.5, 12, 13.5, 15, 16.5, 18, 19.5, 21], "labelExpr": "datum.value % 3 == 0 ? datum.label : ''", "tickSize": {"condition": {"test": "datum.value % 3 == 0", "value": 4}, "value": 2.5}, "titlePadding": 17}},
            "color": {"field": "cond", "type": "nominal", "scale": {"domain": ["Unburned", "Slightly burnt", "Heavily burnt"], "range": ["#1b1b1b", "#f39a2c", "#8e1b1b"]}, "legend": null}
          },
          "layer": [
            {"data": {"name": "h2B"}, "transform": [{"fold": ["Unburned", "Slightly burnt", "Heavily burnt"], "as": ["cond", "value"]}],
             "mark": {"type": "line", "interpolate": "monotone", "strokeWidth": 1.6},
             "encoding": {
               "y": {"field": "value", "type": "quantitative", "scale": {"domain": [0, 700], "nice": false},
                     "axis": {"title": ["Hydrogen concentration", "in biogas (ppm)"], "labelOverlap": false, "values": [0, 50, 100, 150, 200, 250, 300, 350, 400, 450, 500, 550, 600, 650, 700], "labelExpr": "datum.value % 100 == 0 ? datum.label : ''", "tickSize": {"condition": {"test": "datum.value % 100 == 0", "value": 4}, "value": 2.5}, "titlePadding": 10}}
             }},
            {"data": {"name": "ch4B"}, "transform": [{"fold": ["Unburned", "Slightly burnt", "Heavily burnt"], "as": ["cond", "value"]}],
             "mark": {"type": "line", "interpolate": "monotone", "strokeWidth": 1.3, "strokeDash": [1.6, 1.6]},
             "encoding": {
               "y": {"field": "value", "type": "quantitative", "scale": {"domain": [0, 90], "nice": false},
                     "axis": {"orient": "right", "title": ["Methane concentration", "in biogas (% vol)"], "titleAngle": -90, "titleBaseline": "top", "labelOverlap": false, "values": [0, 10, 20, 30, 40, 50, 60, 70, 80, 90], "labelExpr": "datum.value % 20 == 0 ? datum.label : ''", "tickSize": {"condition": {"test": "datum.value % 20 == 0", "value": 4}, "value": 2.5}, "titlePadding": -9}}
             }}
          ],
          "resolve": {"scale": {"y": "independent"}}
        },
        {
          "width": 216, "height": 169,
          "title": {"text": "C", "subtitle": "\u200c\u00a0\u00a0\u00a0\u00a0\u00a0\u00a0\u00a0Rapeseed oil soap", "subtitlePadding": -17, "dx": 33, "offset": -10},
          "data": {"name": "prod"},
          "transform": [{"filter": "datum.panel === 'C'"}],
          "encoding": {
            "x": {"field": "day", "type": "quantitative", "scale": {"domain": [0, 22], "nice": false, "zero": false},
                  "axis": {"title": "Time (days)", "labelOverlap": false, "values": [0, 2.5, 5, 7.5, 10, 12.5, 15, 17.5, 20], "labelExpr": "datum.value % 5 == 0 ? datum.label : ''", "tickSize": {"condition": {"test": "datum.value % 5 == 0", "value": 4}, "value": 2.5}, "titlePadding": 10}},
            "y": {"field": "value", "type": "quantitative", "scale": {"domain": [0, 1], "nice": false},
                  "axis": {"title": ["Methane production", "(Nm³/kg of organic matter)"], "labelOverlap": false, "values": [0, 0.1, 0.2, 0.3, 0.4, 0.5, 0.6, 0.7, 0.8, 0.9, 1], "labelExpr": "round(datum.value * 10) % 2 == 0 ? (datum.value == 0 ? '0' : format(datum.value, '.1f')) : ''", "tickSize": {"condition": {"test": "round(datum.value * 10) % 2 == 0", "value": 4}, "value": 2.5}, "titlePadding": 8}},
            "color": {"field": "cond", "type": "nominal", "scale": {"domain": ["Unburned", "Slightly burnt", "Heavily burnt"], "range": ["#1b1b1b", "#f39a2c", "#8e1b1b"]}, "legend": null}
          },
          "layer": [
            {"transform": [{"filter": "datum.err > 0"}], "mark": {"type": "errorbar", "ticks": true, "size": 6, "thickness": 1, "opacity": 0.35}, "encoding": {"yError": {"field": "err"}}},
            {"mark": {"type": "line", "strokeWidth": 1.4}},
            {"mark": {"type": "point", "filled": true, "size": 34, "opacity": 1}, "encoding": {"shape": {"field": "cond", "type": "nominal", "scale": {"domain": ["Unburned", "Slightly burnt", "Heavily burnt"], "range": ["square", "circle", "triangle-up"]}, "legend": null}}}
          ]
        },
        {
          "width": 215, "height": 169,
          "title": {"text": "D", "subtitle": "\u200c\u00a0\u00a0\u00a0\u00a0\u00a0\u00a0\u00a0Rapeseed oil soap", "subtitlePadding": -17, "dx": 32, "offset": -16},
          "encoding": {
            "x": {"field": "day", "type": "quantitative", "scale": {"domain": [0, 21], "nice": false},
                  "axis": {"title": "Time (days)", "labelOverlap": false, "values": [0, 1.5, 3, 4.5, 6, 7.5, 9, 10.5, 12, 13.5, 15, 16.5, 18, 19.5, 21], "labelExpr": "datum.value % 3 == 0 ? datum.label : ''", "tickSize": {"condition": {"test": "datum.value % 3 == 0", "value": 4}, "value": 2.5}, "titlePadding": -1}},
            "color": {"field": "cond", "type": "nominal", "scale": {"domain": ["Unburned", "Slightly burnt", "Heavily burnt"], "range": ["#1b1b1b", "#f39a2c", "#8e1b1b"]}, "legend": null}
          },
          "layer": [
            {"data": {"name": "h2D"}, "transform": [{"fold": ["Unburned", "Slightly burnt", "Heavily burnt"], "as": ["cond", "value"]}],
             "mark": {"type": "line", "interpolate": "monotone", "strokeWidth": 1.6},
             "encoding": {
               "y": {"field": "value", "type": "quantitative", "scale": {"domain": [0, 700], "nice": false},
                     "axis": {"title": ["Hydrogen concentration", "in biogas (ppm)"], "labelOverlap": false, "values": [0, 50, 100, 150, 200, 250, 300, 350, 400, 450, 500, 550, 600, 650, 700], "labelExpr": "datum.value % 100 == 0 ? datum.label : ''", "tickSize": {"condition": {"test": "datum.value % 100 == 0", "value": 4}, "value": 2.5}, "titlePadding": 10}}
             }},
            {"data": {"name": "ch4D"}, "transform": [{"fold": ["Unburned", "Slightly burnt", "Heavily burnt"], "as": ["cond", "value"]}],
             "mark": {"type": "line", "interpolate": "monotone", "strokeWidth": 1.3, "strokeDash": [1.6, 1.6]},
             "encoding": {
               "y": {"field": "value", "type": "quantitative", "scale": {"domain": [0, 80], "nice": false},
                     "axis": {"orient": "right", "title": ["Methane concentration", "in biogas (% vol)"], "titleAngle": -90, "titleBaseline": "top", "labelOverlap": false, "values": [0, 10, 20, 30, 40, 50, 60, 70, 80], "labelExpr": "datum.value % 20 == 0 ? datum.label : ''", "tickSize": {"condition": {"test": "datum.value % 20 == 0", "value": 4}, "value": 2.5}, "titlePadding": -9}}
             }}
          ],
          "resolve": {"scale": {"y": "independent"}}
        },
        {
          "width": 216, "height": 169,
          "title": {"text": "E", "subtitle": "\u200c\u00a0\u00a0\u00a0\u00a0\u00a0\u00a0\u00a0Sunflower oil soap", "subtitlePadding": -17, "dx": 33, "offset": -10},
          "data": {"name": "prod"},
          "transform": [{"filter": "datum.panel === 'E'"}],
          "encoding": {
            "x": {"field": "day", "type": "quantitative", "scale": {"domain": [0, 22], "nice": false, "zero": false},
                  "axis": {"title": "Time (days)", "labelOverlap": false, "values": [0, 2.5, 5, 7.5, 10, 12.5, 15, 17.5, 20], "labelExpr": "datum.value % 5 == 0 ? datum.label : ''", "tickSize": {"condition": {"test": "datum.value % 5 == 0", "value": 4}, "value": 2.5}, "titlePadding": 11}},
            "y": {"field": "value", "type": "quantitative", "scale": {"domain": [0, 1], "nice": false},
                  "axis": {"title": ["Methane production", "(Nm³/kg of organic matter)"], "labelOverlap": false, "values": [0, 0.1, 0.2, 0.3, 0.4, 0.5, 0.6, 0.7, 0.8, 0.9, 1], "labelExpr": "round(datum.value * 10) % 2 == 0 ? (datum.value == 0 ? '0' : format(datum.value, '.1f')) : ''", "tickSize": {"condition": {"test": "round(datum.value * 10) % 2 == 0", "value": 4}, "value": 2.5}, "titlePadding": 8}},
            "color": {"field": "cond", "type": "nominal", "scale": {"domain": ["Unburned", "Slightly burnt", "Heavily burnt"], "range": ["#1b1b1b", "#f39a2c", "#8e1b1b"]}, "legend": null}
          },
          "layer": [
            {"transform": [{"filter": "datum.err > 0"}], "mark": {"type": "errorbar", "ticks": true, "size": 6, "thickness": 1}, "encoding": {"yError": {"field": "err"}}},
            {"mark": {"type": "line", "strokeWidth": 1.4}},
            {"mark": {"type": "point", "filled": true, "size": 34, "opacity": 1}, "encoding": {"shape": {"field": "cond", "type": "nominal", "scale": {"domain": ["Unburned", "Slightly burnt", "Heavily burnt"], "range": ["square", "circle", "triangle-up"]}, "legend": null}}}
          ]
        },
        {
          "width": 215, "height": 169,
          "title": {"text": "F", "subtitle": "\u200c\u00a0\u00a0\u00a0\u00a0\u00a0\u00a0\u00a0Sunflower oil soap", "subtitlePadding": -17, "dx": 32, "offset": -10},
          "encoding": {
            "x": {"field": "day", "type": "quantitative", "scale": {"domain": [0, 21], "nice": false},
                  "axis": {"title": "Time (days)", "labelOverlap": false, "values": [0, 1.5, 3, 4.5, 6, 7.5, 9, 10.5, 12, 13.5, 15, 16.5, 18, 19.5, 21], "labelExpr": "datum.value % 3 == 0 ? datum.label : ''", "tickSize": {"condition": {"test": "datum.value % 3 == 0", "value": 4}, "value": 2.5}, "titlePadding": 12}},
            "color": {"field": "cond", "type": "nominal", "scale": {"domain": ["Unburned", "Slightly burnt", "Heavily burnt"], "range": ["#1b1b1b", "#f39a2c", "#8e1b1b"]}, "legend": null}
          },
          "layer": [
            {"data": {"name": "h2F"}, "transform": [{"fold": ["Unburned", "Slightly burnt", "Heavily burnt"], "as": ["cond", "value"]}],
             "mark": {"type": "line", "interpolate": "monotone", "strokeWidth": 1.6},
             "encoding": {
               "y": {"field": "value", "type": "quantitative", "scale": {"domain": [0, 700], "nice": false},
                     "axis": {"title": ["Hydrogen concentration", "in biogas (ppm)"], "labelOverlap": false, "values": [0, 50, 100, 150, 200, 250, 300, 350, 400, 450, 500, 550, 600, 650, 700], "labelExpr": "datum.value % 100 == 0 ? datum.label : ''", "tickSize": {"condition": {"test": "datum.value % 100 == 0", "value": 4}, "value": 2.5}, "titlePadding": 10}}
             }},
            {"data": {"name": "ch4F"}, "transform": [{"fold": ["Unburned", "Slightly burnt", "Heavily burnt"], "as": ["cond", "value"]}],
             "mark": {"type": "line", "interpolate": "monotone", "strokeWidth": 1.3, "strokeDash": [1.6, 1.6]},
             "encoding": {
               "y": {"field": "value", "type": "quantitative", "scale": {"domain": [0, 80], "nice": false},
                     "axis": {"orient": "right", "title": ["Methane concentration", "in biogas (% vol)"], "titleAngle": -90, "titleBaseline": "top", "labelOverlap": false, "values": [0, 10, 20, 30, 40, 50, 60, 70, 80], "labelExpr": "datum.value % 20 == 0 ? datum.label : ''", "tickSize": {"condition": {"test": "datum.value % 20 == 0", "value": 4}, "value": 2.5}, "titlePadding": -9}}
             }}
          ],
          "resolve": {"scale": {"y": "independent"}}
        }
      ]
    },
    {
      "spacing": 36,
      "hconcat": [
        {
          "width": 200, "height": 26,
          "data": {"values": [{"cond": "Unburned"}, {"cond": "Slightly burnt"}, {"cond": "Heavily burnt"}]},
          "encoding": {
            "x": {"field": "cond", "type": "nominal", "scale": {"type": "point", "domain": ["Unburned", "Slightly burnt", "Heavily burnt"], "range": [-60.5, 134.5], "padding": 0}, "axis": null},
            "color": {"field": "cond", "type": "nominal", "scale": {"domain": ["Unburned", "Slightly burnt", "Heavily burnt"], "range": ["#1b1b1b", "#f39a2c", "#8e1b1b"]}, "legend": null}
          },
          "layer": [
            {"mark": {"type": "point", "shape": "M-1,0L1,0", "size": 529, "filled": false, "strokeWidth": 1.4, "opacity": 1}},
            {"mark": {"type": "point", "filled": true, "size": 34, "opacity": 1}, "encoding": {"shape": {"field": "cond", "type": "nominal", "scale": {"domain": ["Unburned", "Slightly burnt", "Heavily burnt"], "range": ["square", "circle", "triangle-up"]}, "legend": null}}},
            {"mark": {"type": "text", "align": "left", "baseline": "middle", "dx": 15, "fontSize": 12}, "encoding": {"text": {"field": "cond"}, "color": {"value": "#222"}}}
          ]
        },
        {
          "width": 229.5, "height": 36,
          "data": {"values": [
            {"gas": "Methane", "cond": "Unburned"}, {"gas": "Methane", "cond": "Slightly burnt"}, {"gas": "Methane", "cond": "Heavily burnt"},
            {"gas": "Hydrogen", "cond": "Unburned"}, {"gas": "Hydrogen", "cond": "Slightly burnt"}, {"gas": "Hydrogen", "cond": "Heavily burnt"}
          ]},
          "encoding": {
            "x": {"field": "cond", "type": "nominal", "scale": {"type": "point", "domain": ["Unburned", "Slightly burnt", "Heavily burnt"], "padding": 0.168}, "axis": null},
            "y": {"field": "gas", "type": "nominal", "scale": {"type": "point", "domain": ["Methane", "Hydrogen"], "padding": 0.5},
                  "axis": {"title": null, "domain": false, "ticks": false, "labelFontWeight": "bold", "labelFontSize": 12, "labelPadding": 1, "labelColor": "#111"}},
            "color": {"field": "cond", "type": "nominal", "scale": {"domain": ["Unburned", "Slightly burnt", "Heavily burnt"], "range": ["#1b1b1b", "#f39a2c", "#8e1b1b"]}, "legend": null}
          },
          "layer": [
            {"mark": {"type": "point", "shape": "M-1,0L1,0", "size": 841, "filled": false, "strokeWidth": 1.5, "opacity": 1},
             "encoding": {"strokeDash": {"field": "gas", "type": "nominal", "scale": {"domain": ["Methane", "Hydrogen"], "range": [[1.6, 1.6], [1, 0]]}, "legend": null}}},
            {"mark": {"type": "text", "align": "left", "baseline": "middle", "dx": 18.5, "fontSize": 12}, "encoding": {"text": {"field": "cond"}, "color": {"value": "#222"}}}
          ]
        }
      ]
    }
  ],
  "spacing": 9
}
